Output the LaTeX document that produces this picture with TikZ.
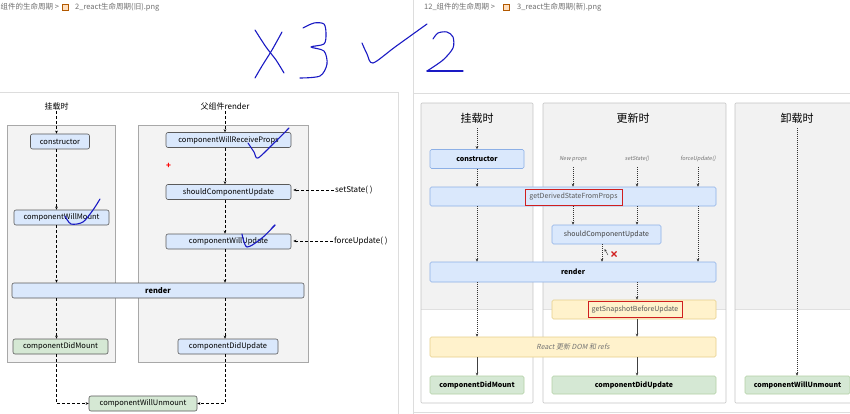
\documentclass[tikz,border=0pt]{standalone}
\usepackage{fontspec}
\setmainfont{Noto Sans CJK SC}[AutoFakeSlant=0.2]
\usetikzlibrary{positioning}
\usetikzlibrary{shapes.geometric, arrows, arrows.meta}

\definecolor{hdrgrey}{HTML}{6F6F6F}
\definecolor{sepgrey}{HTML}{DDDDDD}
\definecolor{oldpanelfill}{HTML}{F3F3F3}
\definecolor{oldpanelline}{HTML}{A8A8A8}
\definecolor{oldblue}{HTML}{DAE8FC}
\definecolor{oldgreen}{HTML}{D5E8D4}
\definecolor{oldline}{HTML}{5A5A5A}
\definecolor{newgrey}{HTML}{F2F2F2}
\definecolor{newpanelline}{HTML}{C4C4C4}
\definecolor{newblue}{HTML}{DAE8FC}
\definecolor{newblueline}{HTML}{8DB0E6}
\definecolor{newyellow}{HTML}{FFF2CC}
\definecolor{newyellowline}{HTML}{E6CF8A}
\definecolor{newgreen}{HTML}{D5E8D4}
\definecolor{newgreenline}{HTML}{B3D1A5}
\definecolor{framered}{HTML}{D01F1F}
\definecolor{handblue}{HTML}{1A1AC4}

\tikzset{
  hdr/.style={anchor=west, inner sep=0pt, text=hdrgrey, font=\fontsize{7.5}{9}\selectfont},
  oldpanel/.style={draw=oldpanelline, fill=oldpanelfill, line width=0.6pt},
  oldbox/.style={draw=oldline, fill=oldblue, rounded corners=2pt, line width=0.6pt,
    minimum height=15pt, inner sep=0pt, font=\fontsize{7.5}{9}\selectfont},
  oldlbl/.style={inner sep=1pt, font=\fontsize{8}{9}\selectfont},
  oldarr/.style={densely dashed, line width=0.6pt, -{Stealth[length=3pt,width=2.6pt]}},
  newpanel/.style={draw=newpanelline, line width=0.6pt, rounded corners=1pt},
  newbox/.style={rounded corners=1.5pt, line width=0.6pt, minimum height=19pt, inner sep=0pt,
    font=\fontsize{7}{8}\selectfont},
  newbluebox/.style={newbox, draw=newblueline, fill=newblue},
  newyellowbox/.style={newbox, draw=newyellowline, fill=newyellow},
  newgreenbox/.style={newbox, draw=newgreenline, fill=newgreen, font=\fontsize{7}{8}\selectfont\bfseries},
  redframe/.style={draw=framered, line width=0.9pt, inner sep=0pt, minimum height=16pt,
    text=black!65, font=\fontsize{7}{8}\selectfont},
  newttl/.style={inner sep=0pt, font=\fontsize{11}{12}\selectfont},
  newsmall/.style={inner sep=0pt, text=black!55, font=\fontsize{5.5}{6}\selectfont\itshape},
  newarr/.style={line width=0.4pt, black!80, dash pattern=on 1pt off 1pt,
    -{Stealth[length=3pt,width=2.6pt]}},
  newsolid/.style={line width=0.5pt, black!75, -{Stealth[length=3pt,width=2.6pt]}},
  hand/.style={handblue, line width=1.1pt, line cap=round, line join=round}
}

\begin{document}
\begin{tikzpicture}[x=1pt, y=-1pt]
\useasboundingbox (0,0) rectangle (850,414);
\fill[white] (0,0) rectangle (850,414);

% file paths on top
\node[hdr] (oldPath) at (0.5,7) {组件的生命周期 >};
\draw[draw=orange!70!black, fill=orange!25] (62,4) rectangle (68,10);
\node[hdr] (oldFile) at (75,7) {2\_react生命周期(旧).png};
\node[hdr] (newPath) at (424,7) {12\_组件的生命周期 >};
\draw[draw=orange!70!black, fill=orange!25] (503,4) rectangle (509,10);
\node[hdr] (newFile) at (517,7) {3\_react生命周期(新).png};

% separators
\draw[sepgrey, line width=0.8pt] (0,92) -- (398,92) -- (398,414);
\draw[sepgrey, line width=0.6pt] (413,0) -- (413,414);
\draw[sepgrey, line width=0.8pt] (413,93) -- (850,93);
\draw[sepgrey, line width=0.8pt] (413,412) -- (850,412);

% ---- old lifecycle ----
\draw[oldpanel] (7,125) rectangle (115,362);
\draw[oldpanel] (138,125) rectangle (308,362);

\node[oldlbl] (oldMountLbl) at (56.5,106) {挂载时};
\node[oldlbl] (oldParentLbl) at (225,106) {父组件render};

\node[oldbox, minimum width=59pt] (oldCtor) at (60,141.5) {constructor};
\node[oldbox, minimum width=95pt] (oldWillMount) at (61.5,217.5) {componentWillMount};
\node[oldbox, minimum width=125pt] (oldWillRecv) at (228.5,140) {componentWillReceiveProps};
\node[oldbox, minimum width=125pt] (oldShould) at (228.5,192) {shouldComponentUpdate};
\node[oldbox, minimum width=125pt] (oldWillUpd) at (228.5,241.5) {componentWillUpdate};
\node[oldbox, minimum width=292pt, font=\fontsize{7.5}{9}\selectfont\bfseries] (oldRender) at (158,290.5) {render};
\node[oldbox, fill=oldgreen, minimum width=95pt] (oldDidMount) at (60.5,346.5) {componentDidMount};
\node[oldbox, minimum width=100pt] (oldDidUpd) at (228,346.5) {componentDidUpdate};
\node[oldbox, fill=oldgreen, minimum width=108pt] (oldUnmount) at (143,403.5) {componentWillUnmount};

\node[oldlbl, anchor=west] (oldSetState) at (334,190) {setState( )};
\node[oldlbl, anchor=west] (oldForce) at (333,241) {forceUpdate( )};

\node[text=red, font=\bfseries\fontsize{8}{8}\selectfont, inner sep=0pt] (oldPlus) at (168.5,166) {+};

\draw[oldarr] (oldMountLbl.south) -- (oldMountLbl.south |- oldCtor.north);
\draw[oldarr] (oldCtor.south -| oldMountLbl) -- (oldWillMount.north -| oldMountLbl);
\draw[oldarr] (oldWillMount.south -| oldMountLbl) -- (oldRender.north -| oldMountLbl);
\draw[oldarr] (oldRender.south -| oldMountLbl) -- (oldDidMount.north -| oldMountLbl);
\draw[oldarr] (oldDidMount.south -| oldMountLbl) |- (oldUnmount.west);
\draw[oldarr] (oldParentLbl.south) -- (oldParentLbl.south |- oldWillRecv.north);
\draw[oldarr] (oldWillRecv.south -| oldParentLbl) -- (oldShould.north -| oldParentLbl);
\draw[oldarr] (oldShould.south -| oldParentLbl) -- (oldWillUpd.north -| oldParentLbl);
\draw[oldarr] (oldWillUpd.south -| oldParentLbl) -- (oldRender.north -| oldParentLbl);
\draw[oldarr] (oldRender.south -| oldParentLbl) -- (oldDidUpd.north -| oldParentLbl);
\draw[oldarr] (oldDidUpd.south -| oldParentLbl) |- (oldUnmount.east);
\draw[oldarr, shorten >=2pt] (oldSetState.west) -- (oldShould.east |- oldSetState.west);
\draw[oldarr, shorten >=2pt] (oldForce.west) -- (oldWillUpd.east |- oldForce.west);

% ---- new lifecycle ----
\fill[newgrey] (421,103) rectangle (533,309);
\fill[newgrey] (543,103) rectangle (726,309);
\fill[newgrey] (735,103) rectangle (860,309);
\draw[black!12] (421,309) -- (533,309) (543,309) -- (726,309) (735,309) -- (860,309);
\draw[newpanel] (421,103) rectangle (533,403);
\draw[newpanel] (543,103) rectangle (726,403);
\draw[newpanel] (735,103) rectangle (860,403);

\node[newttl] (newMountTtl) at (477,118) {挂载时};
\node[newttl] (newUpdTtl) at (633,118) {更新时};
\node[newttl] (newUnmTtl) at (797,118) {卸载时};

\node[newsmall] (newProps) at (573,159) {New props};
\node[newsmall] (newSetState) at (637,159) {setState()};
\node[newsmall] (newForce) at (698,159) {forceUpdate()};

\node[newbluebox, minimum width=94pt, font=\fontsize{7}{8}\selectfont\bfseries] (newCtor) at (477,159) {constructor};
\node[newbluebox, minimum width=286pt] (newDerived) at (573,196.5) {};
\node[redframe, minimum width=97pt] (newDerivedTxt) at (573.5,197) {getDerivedStateFromProps};
\node[newbluebox, minimum width=109pt, text=black!75] (newShould) at (606.5,234.5) {shouldComponentUpdate};
\node[newbluebox, minimum width=286pt, minimum height=20pt, font=\fontsize{7}{8}\selectfont\bfseries] (newRender) at (573,272) {render};
\node[newyellowbox, minimum width=164pt] (newSnap) at (634,309.5) {};
\node[redframe, minimum width=94pt] (newSnapTxt) at (635,309.5) {getSnapshotBeforeUpdate};
\node[newyellowbox, minimum width=286pt, minimum height=20pt, text=black!55, font=\fontsize{7}{8}\selectfont\itshape] (newDom) at (573,347) {React 更新 DOM 和 refs};
\node[newgreenbox, minimum width=94pt, minimum height=18pt] (newDidMount) at (477,385) {componentDidMount};
\node[newgreenbox, minimum width=164pt, minimum height=18pt] (newDidUpd) at (634,385) {componentDidUpdate};
\node[newgreenbox, minimum width=105pt, minimum height=18pt] (newWillUnm) at (797.5,385) {componentWillUnmount};

\draw[newarr] (newMountTtl.south) ++(0,5) -- (newCtor.north -| newMountTtl);
\draw[newarr] (newCtor.south) -- (newDerived.north -| newCtor);
\draw[newarr] (newProps.south) ++(0,5) -- (newDerived.north -| newProps);
\draw[newarr] (newSetState.south) ++(0,5) -- (newDerived.north -| newSetState);
\draw[newarr] (newForce.south) ++(0,5) -- (newDerived.north -| newForce);
\draw[newarr] (newDerived.south -| newProps) -- (newShould.north -| newProps);
\draw[newarr] (newDerived.south -| newSetState) -- (newShould.north -| newSetState);
\draw[newarr] (newDerived.south -| newCtor) -- (newRender.north -| newCtor);
\draw[newarr] (newDerived.south -| newForce) -- (newRender.north -| newForce);
\draw[newarr] (newShould.south -| 602,0) -- (newRender.north -| 602,0);
\draw[line width=0.4pt, black!80, -{Stealth[length=2.5pt,width=2.2pt]}] (608,255) -- (604.5,249);
\draw[framered, line width=1.1pt] (611.5,251.5) -- (616.5,256.5) (616.5,251.5) -- (611.5,256.5);
\draw[newarr] (newRender.south -| newSetState) -- (newSnap.north -| newSetState);
\draw[newarr] (newRender.south -| newCtor) -- (newDom.north -| newCtor);
\draw[newsolid] (newSnap.south -| newSetState) -- (newDom.north -| newSetState);
\draw[newsolid] (newDom.south -| newCtor) -- (newDidMount.north);
\draw[newsolid] (newDom.south -| newSetState) -- (newDidUpd.north -| newSetState);
\draw[newarr] (newUnmTtl.south) ++(0,5) -- (newWillUnm.north -| newUnmTtl);

% ---- handwriting ----
\draw[hand] plot[smooth] coordinates {(255,30) (266,47) (276,60) (284,73)};
\draw[hand] plot[smooth] coordinates {(282,32) (272,50) (262,66) (255,78)};
\draw[hand] plot[smooth] coordinates {(303,28) (314,23) (324,24) (326,34) (324,44) (311,47) (324,51) (327,64) (320,76) (300,78)};
\draw[hand] plot[smooth] coordinates {(362,43) (367,54) (373,63) (395,47) (427,24)};
\draw[hand] plot[smooth] coordinates {(433,39) (438,33) (447,32) (453,37) (453,48) (443,60) (427,71)};
\draw[hand] (427,71) -- (463,71);
\draw[hand] plot[smooth] coordinates {(248,143) (254,152) (258,158) (274,143) (289,128)};
\draw[hand] plot[smooth] coordinates {(65,216) (71,224) (83,222) (93,210) (100,199)};
\draw[hand] plot[smooth] coordinates {(242,234) (247,247) (262,238) (275,225)};
\draw[hand] (275,225) -- (272,228);
\end{tikzpicture}
\end{document}
